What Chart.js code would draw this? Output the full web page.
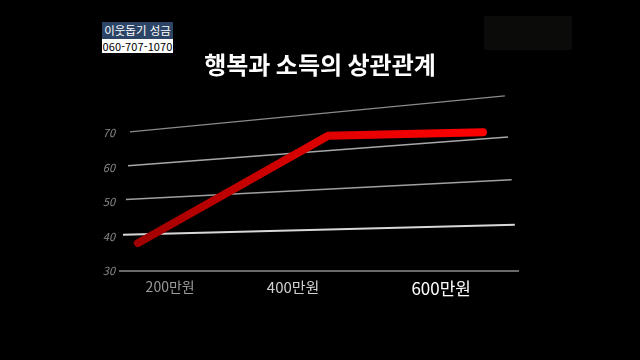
<!DOCTYPE html>
<html lang="ko">
<head>
<meta charset="utf-8">
<title>행복과 소득의 상관관계</title>
<script src="https://cdn.jsdelivr.net/npm/chart.js@4/dist/chart.umd.min.js"></script>
<style>
    html, body { margin: 0; padding: 0; background: #000; }
    #wrap { position: relative; width: 640px; height: 360px; overflow: hidden; }
    #badge { position: absolute; left: 102px; top: 22px; width: 71px; font-family: "Noto Sans CJK KR", sans-serif; text-align: center; white-space: nowrap; overflow: hidden; }
    #badge .top { background: #2c4466; color: #fff; font-size: 11.5px; line-height: 17px; height: 17px; }
    #badge .bot { background: #fff; color: #000; font-size: 11px; line-height: 14px; height: 14px; letter-spacing: 0.1px; }
    #logo { position: absolute; left: 484px; top: 16px; width: 88px; height: 34px; background: #0b0c0a; }
</style>
</head>
<body>
<div id="wrap">
    <canvas id="happyChart" width="640" height="360"></canvas>
    <div id="badge"><div class="top">이웃돕기 성금</div><div class="bot">060-707-1070</div></div>
    <div id="logo"></div>
</div>
<script>
// 데이터
var chartTitle = '행복과 소득의 상관관계';
var incomeLabels = ['200만원', '400만원', '600만원'];
var incomeTickPos = [12.6, 43.5, 80.7];
var happyX = [4.5, 52.3, 91.2];
var happyY = [38.1, 69.3, 70.3];
var yTicks = [30, 40, 50, 60, 70];

// 원근감 있는 배경선 (시작값, 끝값)
var guideStartX = [2.5, 2.0, 1.5, 0.75];
var guideEndX = [96.7, 97.5, 98.4, 99.2];
var guideStartY = [70.4, 60.6, 50.8, 40.5];
var guideEndY = [80.9, 68.9, 56.5, 43.4];
var guideColors = ['#8a8a8a', '#a8a8a8', '#a0a0a0', '#d8d8d8'];
var guideWidths = [1.2, 1.5, 1.5, 2];

var labelSizes = [14, 15, 17];
var labelColors = ['#9a9a9a', '#d0d0d0', '#ffffff'];

function redGradient(context) {
    var chart = context.chart;
    var area = chart.chartArea;
    if (!area) return '#d00000';
    var g = chart.ctx.createLinearGradient(area.left, 0, area.right, 0);
    g.addColorStop(0, '#9a0000');
    g.addColorStop(0.52, '#e00000');
    g.addColorStop(0.9, '#ff0000');
    return g;
}

// 제목은 화면 가운데에 그림
var centerTitle = {
    id: 'centerTitle',
    afterDraw: function(chart) {
        var ctx = chart.ctx;
        ctx.save();
        ctx.fillStyle = '#ffffff';
        ctx.font = 'bold 24px "Noto Sans CJK KR", sans-serif';
        ctx.textAlign = 'center';
        ctx.textBaseline = 'middle';
        ctx.fillText(chartTitle, chart.width / 2, 65);
        ctx.restore();
    }
};

var datasets = [{
    label: '행복',
    data: happyX.map(function(x, i) { return { x: x, y: happyY[i] }; }),
    borderColor: redGradient,
    borderWidth: 8,
    borderCapStyle: 'round',
    borderJoinStyle: 'miter',
    pointRadius: 0,
    tension: 0
}];

guideStartX.forEach(function(sx, i) {
    datasets.push({
        label: 'guide' + i,
        data: [{ x: sx, y: guideStartY[i] }, { x: guideEndX[i], y: guideEndY[i] }],
        borderColor: guideColors[i],
        borderWidth: guideWidths[i],
        pointRadius: 0
    });
});

Chart.defaults.font.family = '"Noto Sans CJK KR", "Noto Sans", sans-serif';

new Chart(document.getElementById('happyChart'), {
    type: 'line',
    data: { datasets: datasets },
    plugins: [centerTitle],
    options: {
        responsive: false,
        animation: false,
        devicePixelRatio: 1,
        layout: { padding: { top: 92, left: 90, right: 122, bottom: 49 } },
        plugins: {
            legend: { display: false },
            tooltip: { enabled: false },
            title: { display: false }
        },
        scales: {
            x: {
                type: 'linear',
                min: 0,
                max: 100,
                afterFit: function(scale) { scale.height = 40; },
                afterBuildTicks: function(scale) {
                    scale.ticks = incomeTickPos.map(function(v) { return { value: v }; });
                },
                grid: { display: false, drawTicks: false },
                border: { display: true, color: '#6a6a6a', width: 2 },
                ticks: {
                    padding: 7,
                    maxRotation: 0,
                    autoSkip: false,
                    callback: function(value, index) { return incomeLabels[index]; },
                    color: function(ctx) { return labelColors[ctx.index]; },
                    font: function(ctx) { return { size: labelSizes[ctx.index] }; }
                }
            },
            y: {
                min: 30,
                max: 82,
                afterFit: function(scale) { scale.width = 30; },
                afterBuildTicks: function(scale) {
                    scale.ticks = yTicks.map(function(v) { return { value: v }; });
                },
                grid: { display: false, drawTicks: false },
                border: { display: false },
                ticks: {
                    padding: 5,
                    color: '#8a8a8a',
                    font: { size: 11, style: 'italic' }
                }
            }
        }
    }
});
</script>
</body>
</html>
